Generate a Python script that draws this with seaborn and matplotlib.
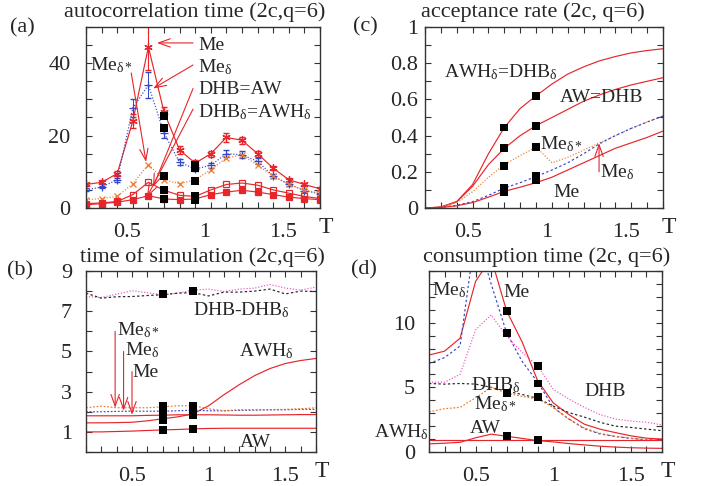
import numpy as np
import pandas as pd
import seaborn as sns
import matplotlib.pyplot as plt
from matplotlib.ticker import MultipleLocator, FixedLocator
from matplotlib.transforms import ScaledTranslation

# temperatures
T = [0.2, 0.3, 0.4, 0.5, 0.6, 0.7, 0.8, 0.9, 1.0, 1.1, 1.2, 1.3, 1.4, 1.5, 1.6, 1.7]

# (a) autocorrelation time
a_me = [6.5, 7.1, 9.5, 24, 44.5, 26.5, 16, 12.4, 15, 19.5, 18.7, 15, 11, 7.8, 6.5, 5.3]
a_me_err = [0.5, 0.5, 0.6, 2, 6.5, 1.5, 1, 0.8, 0.8, 1.2, 1, 0.8, 0.6, 0.6, 0.5, 0.4]
a_med = [5, 5.8, 7.8, 27.6, 34, 20.7, 12.6, 10.8, 11.8, 15, 14.7, 12.9, 8.8, 6.6, 4.8, 3.9]
a_med_err = [0.4, 0.4, 0.5, 2.5, 3.5, 1.5, 0.8, 0.6, 0.7, 1, 1, 0.8, 0.6, 0.5, 0.4, 0.3]
a_meds = [2.3, 2.6, 3.2, 6.7, 12, 7.8, 6.7, 7.8, 10.6, 13.8, 14.7, 11.8, 8.8, 6.5, 5, 4.1]
a_dhb = [1.2, 1.4, 1.8, 3.7, 7.1, 4.9, 3.5, 3.2, 5, 6.5, 6.9, 6.3, 5, 4.1, 3.2, 2.6]
a_dhbd = [0.9, 1.2, 1.6, 2.3, 3.4, 2.5, 2.3, 2.5, 3.7, 4.4, 4.9, 4.4, 3.7, 3, 2.6, 2.3]
a_sq_T = [0.7, 0.7, 0.7, 0.7, 0.7, 0.9, 0.9, 0.9, 0.9, 0.9]
a_sq_v = [25.3, 22, 8.8, 4.9, 2.6, 12, 11, 7.4, 3.2, 2.3]

# (b) time of simulation
b_dhb = [7.73, 7.68, 7.85, 8.02, 7.92, 7.82, 7.9, 8.05, 8.1, 7.98, 8.1, 8.15, 8.33, 8.15, 8.05, 8.2]
b_dhbd = [7.9, 7.65, 7.72, 7.73, 7.78, 7.82, 7.9, 7.92, 7.76, 7.95, 7.95, 8.0, 8.1, 7.86, 8.0, 7.98]
b_awhd = [1.45, 1.45, 1.46, 1.48, 1.55, 1.65, 1.75, 1.9, 2.3, 2.85, 3.35, 3.8, 4.15, 4.4, 4.55, 4.65]
b_aw = [1.0, 1.0, 1.02, 1.04, 1.07, 1.1, 1.12, 1.15, 1.17, 1.18, 1.18, 1.18, 1.18, 1.18, 1.18, 1.18]
b_me = [1.8, 1.8, 1.8, 1.8, 1.82, 1.83, 1.85, 1.85, 1.85, 1.84, 1.83, 1.83, 1.84, 1.85, 1.86, 1.86]
b_med = [2.0, 2.0, 2.02, 2.03, 2.03, 2.03, 2.05, 2.08, 2.05, 2.05, 2.07, 2.08, 2.1, 2.1, 2.12, 2.12]
b_meds = [2.2, 2.28, 2.2, 2.2, 2.2, 2.25, 2.3, 2.3, 2.15, 2.05, 2.1, 2.1, 2.1, 2.12, 2.15, 2.2]
b_sq_T = [0.7, 0.7, 0.7, 0.7, 0.7, 0.7, 0.9, 0.9, 0.9, 0.9, 0.9]
b_sq_v = [7.85, 2.3, 2.05, 1.8, 1.6, 1.1, 8.02, 2.3, 2.05, 1.85, 1.15]

# (c) acceptance rate
c_awhd = [0, 0.005, 0.035, 0.13, 0.3, 0.445, 0.55, 0.62, 0.685, 0.74, 0.78, 0.813, 0.837, 0.857, 0.87, 0.88]
c_aw = [0, 0.005, 0.035, 0.12, 0.24, 0.33, 0.40, 0.455, 0.50, 0.545, 0.59, 0.625, 0.655, 0.68, 0.70, 0.72]
c_meds = [0, 0.005, 0.03, 0.09, 0.17, 0.24, 0.29, 0.336, 0.25, 0.28, 0.32, 0.36, 0.40, 0.44, 0.475, 0.508]
c_med = [0, 0.003, 0.015, 0.035, 0.07, 0.11, 0.14, 0.174, 0.21, 0.25, 0.30, 0.355, 0.40, 0.44, 0.475, 0.508]
c_me = [0, 0.003, 0.012, 0.03, 0.06, 0.092, 0.115, 0.14, 0.17, 0.21, 0.25, 0.29, 0.33, 0.36, 0.39, 0.425]
c_sq_T = [0.7, 0.7, 0.7, 0.7, 0.7, 0.9, 0.9, 0.9, 0.9, 0.9]
c_sq_v = [0.445, 0.33, 0.23, 0.11, 0.09, 0.62, 0.455, 0.335, 0.175, 0.155]

# (d) consumption time
d_me = [7.5, 7.8, 8.8, 13.2, 15.0, 10.9, 8.5, 5.5, 3.8, 2.9, 2.15, 1.77, 1.5, 1.25, 1.07, 1.0]
d_med = [6.85, 7.3, 8.2, 17, 13, 9.2, 7.0, 5.4, 3.45, 2.55, 1.8, 1.4, 1.2, 1.05, 0.95, 0.9]
d_dhb = [5.4, 5.4, 6.0, 9.45, 10.6, 8.95, 7.7, 6.65, 4.85, 4.1, 3.45, 2.9, 2.55, 2.4, 2.3, 2.1]
d_dhbd = [5.3, 5.25, 5.3, 5.25, 5.0, 4.7, 4.45, 4.15, 3.55, 3.05, 2.7, 2.3, 2.0, 1.9, 1.77, 1.65]
d_meds = [3.1, 3.35, 3.45, 4.2, 5.0, 4.55, 4.3, 4.1, 3.45, 2.55, 1.85, 1.45, 1.2, 1.07, 0.95, 0.9]
d_aw = [0.63, 0.68, 0.75, 1.1, 1.38, 1.22, 1.05, 0.88, 0.78, 0.65, 0.55, 0.45, 0.38, 0.33, 0.3, 0.28]
d_awhd = [0.95, 0.95, 0.95, 0.95, 0.95, 0.95, 0.95, 0.95, 0.95, 0.95, 0.95, 0.95, 0.95, 0.95, 0.95, 0.95]
d_sq_T = [0.7, 0.7, 0.7, 0.7, 0.9, 0.9, 0.9, 0.9]
d_sq_v = [10.9, 9.2, 4.55, 1.25, 6.65, 5.3, 4.25, 0.93]

RED = '#e6262b'
BLUE = '#3346c8'
ORANGE = '#f07828'
PINK = '#f050c8'
BLACK = '#222222'

sns.set_theme(style="ticks")
plt.rcParams['font.family'] = ['Liberation Serif', 'DejaVu Serif']
plt.rcParams['mathtext.fontset'] = 'custom'
plt.rcParams['mathtext.rm'] = 'Liberation Serif'
plt.rcParams['mathtext.it'] = 'Liberation Serif'
plt.rcParams['mathtext.default'] = 'regular'

FS = 14      # annotations
TFS = 16     # titles
KFS = 16     # tick labels
ME = 'Me'
MED = r'Me$_{δ}$'
MEDS = r'Me$_{δ*}$'


def line(ax, y, color, ls='-', marker=None, ms=5, mfc=None, lw=0.85):
    kw = {}
    if marker is not None:
        kw = dict(marker=marker, markersize=ms, markeredgecolor=color,
                  markeredgewidth=0.9, markerfacecolor=mfc if mfc else color)
    sns.lineplot(x=T, y=y, ax=ax, color=color, linestyle=ls, lw=lw,
                 errorbar=None, sort=False, **kw)


def squares(ax, xs, ys):
    sns.scatterplot(x=xs, y=ys, ax=ax, marker='s', color='black', s=32,
                    edgecolor='none', zorder=6, legend=False)


def style(ax, ylim, ymaj, ymin, ylabels, ypad, xshift=0):
    ax.set_xlim(0.2, 1.7)
    ax.set_ylim(*ylim)
    ax.xaxis.set_major_locator(FixedLocator([0.5, 1.0, 1.5]))
    ax.xaxis.set_minor_locator(MultipleLocator(0.1))
    ax.set_xticklabels(['0.5', '1', '1.5'])
    ax.yaxis.set_major_locator(FixedLocator(ymaj))
    ax.yaxis.set_minor_locator(MultipleLocator(ymin))
    ax.set_yticklabels(ylabels)
    ax.tick_params(which='both', direction='in', top=True, right=True,
                   length=4, width=0.8, color='#333333', labelsize=KFS)
    ax.tick_params(axis='x', which='major', pad=11)
    ax.tick_params(axis='y', which='major', pad=ypad)
    ax.set_xlabel('')
    ax.set_ylabel('')
    for sp in ax.spines.values():
        sp.set_linewidth(1.0)
        sp.set_color('#333333')
    if xshift:
        for lab in ax.get_xticklabels():
            lab.set_transform(lab.get_transform() +
                              ScaledTranslation(xshift / 100, 0, ax.figure.dpi_scale_trans))
    ax.text(1.025, -0.11, 'T', transform=ax.transAxes, fontsize=KFS + 1,
            ha='center', va='center')


def arrow(ax, x0, y0, x1, y1):
    ax.annotate('', xy=(x1, y1), xytext=(x0, y0),
                arrowprops=dict(arrowstyle='->,head_length=0.7,head_width=0.25',
                                color=RED, lw=0.8, shrinkA=0, shrinkB=0))


fig = plt.figure(figsize=(7.04, 4.86), dpi=100)
W, H = 704, 486


def add_ax(x0, y0, x1, y1):
    return fig.add_axes([x0 / W, 1 - y1 / H, (x1 - x0) / W, (y1 - y0) / H])


ax_a = add_ax(86, 27, 320, 208)
ax_c = add_ax(425, 27, 663, 208)
ax_b = add_ax(86, 271, 316, 452)
ax_d = add_ax(429, 271, 662, 452)

# ---------- (a)
ax_a.errorbar(T, a_me, yerr=a_me_err, fmt='none', ecolor=RED, elinewidth=0.8, capsize=2.5)
ax_a.errorbar(T, a_med, yerr=a_med_err, fmt='none', ecolor=BLUE, elinewidth=0.7, capsize=2)
line(ax_a, a_me, RED, '-', marker=(6, 2, 0), ms=6)
line(ax_a, a_med, BLUE, (0, (1, 1.5)), marker='+', ms=6)
line(ax_a, a_meds, ORANGE, (0, (1, 1.5)), marker='x', ms=5)
line(ax_a, a_dhb, RED, '-', marker='s', ms=4.5, mfc='none')
line(ax_a, a_dhbd, RED, '-', marker='s', ms=4.5)
squares(ax_a, a_sq_T, a_sq_v)
style(ax_a, (0, 50), [0, 20, 40], 5, ['0', '20', '40'], 11, xshift=-6)

ax_a.text(0.92, 45, ME, fontsize=FS, va='center')
arrow(ax_a, 0.886, 45.6, 0.655, 45.6)
ax_a.text(0.92, 39, MED, fontsize=FS, va='center')
arrow(ax_a, 0.886, 39.5, 0.63, 33)
ax_a.text(0.92, 32.6, 'DHB=AW', fontsize=FS, va='center')
arrow(ax_a, 0.886, 33, 0.63, 5.8)
ax_a.text(0.92, 26.5, r'DHB$_{δ}$=AWH$_{δ}$', fontsize=FS, va='center')
arrow(ax_a, 0.886, 27.3, 0.59, 3)
ax_a.text(0.226, 39.5, MEDS, fontsize=FS, va='center')
arrow(ax_a, 0.49, 37.3, 0.585, 12.7)

# ---------- (c)
line(ax_c, c_awhd, RED)
line(ax_c, c_aw, RED)
line(ax_c, c_meds, ORANGE, (0, (1, 1.5)))
line(ax_c, c_med, BLUE, (0, (2, 2)))
line(ax_c, c_me, RED)
squares(ax_c, c_sq_T, c_sq_v)
style(ax_c, (0, 1), [0, 0.2, 0.4, 0.6, 0.8, 1.0], 0.1,
      ['0', '0.2', '0.4', '0.6', '0.8', '1'], 5, xshift=-5)
ax_c.text(0.32, 0.75, r'AWH$_{δ}$=DHB$_{δ}$', fontsize=FS, va='center')
ax_c.text(1.05, 0.61, 'AW=DHB', fontsize=FS, va='center')
ax_c.text(0.925, 0.35, MEDS, fontsize=FS, va='center')
ax_c.text(1.3, 0.2, MED, fontsize=FS, va='center')
arrow(ax_c, 1.297, 0.2, 1.297, 0.358)
ax_c.text(1.01, 0.085, ME, fontsize=FS, va='center')

# ---------- (b)
line(ax_b, b_dhb, PINK, (0, (1, 1.5)))
line(ax_b, b_dhbd, BLACK, (0, (2, 2)))
line(ax_b, b_awhd, RED)
line(ax_b, b_aw, RED)
line(ax_b, b_me, RED)
line(ax_b, b_med, BLUE, (0, (1.5, 1.5)))
line(ax_b, b_meds, ORANGE, (0, (1.5, 1.5)))
squares(ax_b, b_sq_T, b_sq_v)
style(ax_b, (0, 9), [1, 3, 5, 7, 9], 1, ['1', '3', '5', '7', '9'], 10)
ax_b.text(0.9, 7.06, r'DHB-DHB$_{δ}$', fontsize=FS, va='center')
ax_b.text(1.2, 5.0, r'AWH$_{δ}$', fontsize=FS, va='center')
ax_b.text(1.2, 0.49, 'AW', fontsize=FS, va='center')
ax_b.text(0.4, 6.07, MEDS, fontsize=FS, va='center')
ax_b.text(0.455, 5.05, MED, fontsize=FS, va='center')
ax_b.text(0.505, 3.94, ME, fontsize=FS, va='center')
arrow(ax_b, 0.39, 6.0, 0.39, 2.2)
arrow(ax_b, 0.445, 5.0, 0.445, 2.05)
arrow(ax_b, 0.5, 4.0, 0.5, 1.85)

# ---------- (d)
line(ax_d, d_me, RED)
line(ax_d, d_med, BLUE, (0, (2, 2)))
line(ax_d, d_dhb, PINK, (0, (1, 1.5)))
line(ax_d, d_dhbd, BLACK, (0, (2, 2)))
line(ax_d, d_meds, ORANGE, (0, (1.5, 1.5)))
line(ax_d, d_aw, RED)
line(ax_d, d_awhd, RED)
squares(ax_d, d_sq_T, d_sq_v)
style(ax_d, (0, 14), [0, 5, 10], 1, ['0', '5', '10'], 10)
ax_d.text(0.22, 12.5, MED, fontsize=FS, va='center')
ax_d.text(0.68, 12.3, ME, fontsize=FS, va='center')
ax_d.text(0.47, 5.2, r'DHB$_{δ}$', fontsize=FS, va='center')
ax_d.text(1.2, 4.7, 'DHB', fontsize=FS, va='center')
ax_d.text(0.49, 3.7, MEDS, fontsize=FS, va='center')
ax_d.text(0.46, 1.85, 'AW', fontsize=FS, va='center')
ax_d.text(-0.154, 1.5, r'AWH$_{δ}$', fontsize=FS, va='center', clip_on=False)

# titles and panel labels
titles = [(195, 12, 'autocorrelation time (2c,q=6)'),
          (533, 12, 'acceptance rate (2c, q=6)'),
          (202, 257, 'time of simulation (2c,q=6)'),
          (547, 257, 'consumption time (2c, q=6)')]
for x, y, s in titles:
    fig.text(x / W, 1 - y / H, s, ha='center', va='center', fontsize=TFS)
for x, y, s in [(22, 28, '(a)'), (365, 27, '(c)'), (20, 271, '(b)'), (364, 270, '(d)')]:
    fig.text(x / W, 1 - y / H, s, ha='center', va='center', fontsize=KFS)

fig.savefig('out.png', dpi=100)
